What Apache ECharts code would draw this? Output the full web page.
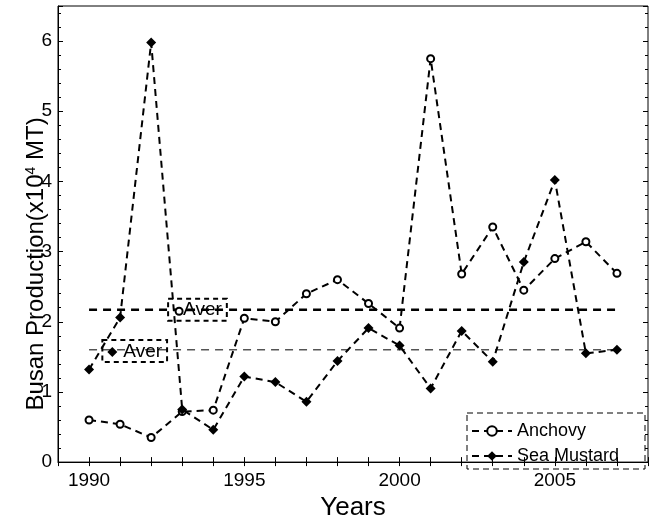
<!DOCTYPE html>
<html><head><meta charset="utf-8">
<script src="https://cdn.jsdelivr.net/npm/echarts@6/dist/echarts.min.js"></script>
<style>html,body{margin:0;padding:0;background:#fff}#c{width:656px;height:526px}</style>
</head><body><div id="c"></div>
<script>
const years = [1990,1991,1992,1993,1994,1995,1996,1997,1998,1999,2000,2001,2002,2003,2004,2005,2006,2007];
const anchovy = [0.60,0.54,0.35,0.72,0.74,2.05,2.00,2.40,2.60,2.26,1.91,5.75,2.68,3.35,2.45,2.90,3.14,2.69];
const seaMustard = [1.32,2.06,5.98,0.75,0.46,1.22,1.14,0.86,1.44,1.91,1.66,1.05,1.87,1.43,2.85,4.02,1.55,1.60];
const averageValues = [2.17, 1.60];          // Anchovy, Sea Mustard
const averageSpan = [1990, 2007];
const averLabelAnchors = [[1992.9, 2.15], [1990.75, 1.57]];
const xLabelValues = [1990,1995,2000,2005];
const xTickValues = [1989,1990,1991,1992,1993,1994,1995,1996,1997,1998,1999,2000,2001,2002,2003,2004,2005,2006,2007,2008];
const yLabelValues = [0,1,2,3,4,5,6];
const seriesNames = ['Anchovy','Sea Mustard'];

const FONT = 'Liberation Sans, Arial, Helvetica, sans-serif';
const chart = echarts.init(document.getElementById('c'), null, {renderer:'canvas'});
const pairs = arr => years.map((y,i)=>[y, arr[i]]);
const dash = [7,5];

const tickCommon = {show:true, inside:true, length:5, lineStyle:{color:'#000', width:1}};
const option = {
  backgroundColor:'#fff',
  animation:false,
  textStyle:{fontFamily:FONT, color:'#000'},
  grid:{left:58, right:8, top:6, bottom:51, show:true, borderColor:'#000', borderWidth:1, backgroundColor:'transparent'},
  xAxis:[{
    type:'value', min:1989, max:2008,
    axisLine:{show:true, lineStyle:{color:'#000', width:1}},
    axisTick:Object.assign({customValues:xTickValues}, tickCommon),
    axisLabel:{customValues:xLabelValues, formatter:v=>String(v), color:'#000', fontSize:19, margin:9, fontFamily:FONT},
    splitLine:{show:false},
    name:'Years', nameLocation:'middle', nameGap:28,
    nameTextStyle:{fontSize:26, color:'#000', fontFamily:FONT}
  },{
    type:'value', min:1989, max:2008, position:'top',
    axisLine:{show:false},
    axisTick:Object.assign({customValues:xTickValues}, tickCommon, {length:4}),
    axisLabel:{show:false}, splitLine:{show:false}
  }],
  yAxis:[{
    type:'value', min:0, max:6.5, interval:1,
    axisLine:{show:true, lineStyle:{color:'#000', width:1}},
    axisTick:tickCommon,
    minorTick:{show:true, splitNumber:5, length:3, lineStyle:{color:'#000', width:1}},
    axisLabel:{customValues:yLabelValues, color:'#000', fontSize:19, margin:6, fontFamily:FONT},
    splitLine:{show:false}
  },{
    type:'value', min:0, max:6.5, interval:1, position:'right',
    axisLine:{show:false},
    axisTick:tickCommon,
    minorTick:{show:true, splitNumber:5, length:3, lineStyle:{color:'#000', width:1}},
    axisLabel:{show:false}, splitLine:{show:false}
  }],
  legend:{
    data:seriesNames, orient:'vertical', left:471, top:421,
    itemWidth:40, itemHeight:12, itemGap:5, padding:0,
    textStyle:{fontSize:18, color:'#000', fontFamily:FONT, lineHeight:20}
  },
  series:[
    {name:'Anchovy Aver', type:'line', data:[[averageSpan[0],averageValues[0]],[averageSpan[1],averageValues[0]]],
     symbol:'none', lineStyle:{color:'#000', width:2.5, type:[8,6]}, z:1, silent:true},
    {name:'Sea Mustard Aver', type:'line', data:[[averageSpan[0],averageValues[1]],[averageSpan[1],averageValues[1]]],
     symbol:'none', lineStyle:{color:'#000', width:1, type:[8,6]}, z:1, silent:true},
    {name:seriesNames[0], type:'line', data:pairs(anchovy), symbol:'emptyCircle', symbolSize:7,
     lineStyle:{color:'#000', width:2, type:dash}, itemStyle:{color:'#000', borderColor:'#000', borderWidth:1.5}, z:3},
    {name:seriesNames[1], type:'line', data:pairs(seaMustard), symbol:'diamond', symbolSize:10,
     lineStyle:{color:'#000', width:2, type:dash}, itemStyle:{color:'#000'}, z:4},
    {name:'Aver labels', type:'scatter', z:5, silent:true,
     itemStyle:{opacity:1},
     data:[
       {value:averLabelAnchors[0], symbol:'emptyCircle', symbolSize:7,
        itemStyle:{color:'#000', borderColor:'#000', borderWidth:1.5, opacity:1},
        label:{position:[-6.5,-8], padding:[1,5,0,15]}},
       {value:averLabelAnchors[1], symbol:'diamond', symbolSize:10,
        itemStyle:{color:'#000', opacity:1},
        label:{position:[-5,-7], padding:[1,5,0,21]}}
     ],
     label:{show:true, formatter:'Aver', fontSize:19, color:'#000', opacity:1, fontFamily:FONT, lineHeight:21,
       borderColor:'#000', borderWidth:1, borderType:[5,4], backgroundColor:'transparent'}
    }
  ],
  graphic:[
    {type:'rect', shape:{x:467, y:413, width:178, height:56}, z:10,
     style:{fill:'none', stroke:'#000', lineWidth:1, lineDash:[6,4]}},
    {type:'text', x:36, y:264, rotation:Math.PI/2, z:10,
     style:{text:'{a|Busan Production(x10}{s|4}{a| MT)}', align:'center', verticalAlign:'middle',
       rich:{a:{fontSize:24, fontFamily:FONT, fill:'#000'}, s:{fontSize:14, fontFamily:FONT, fill:'#000', verticalAlign:'top', padding:[0,0,10,0]}}}}
  ]
};
chart.setOption(option);
</script></body></html>
